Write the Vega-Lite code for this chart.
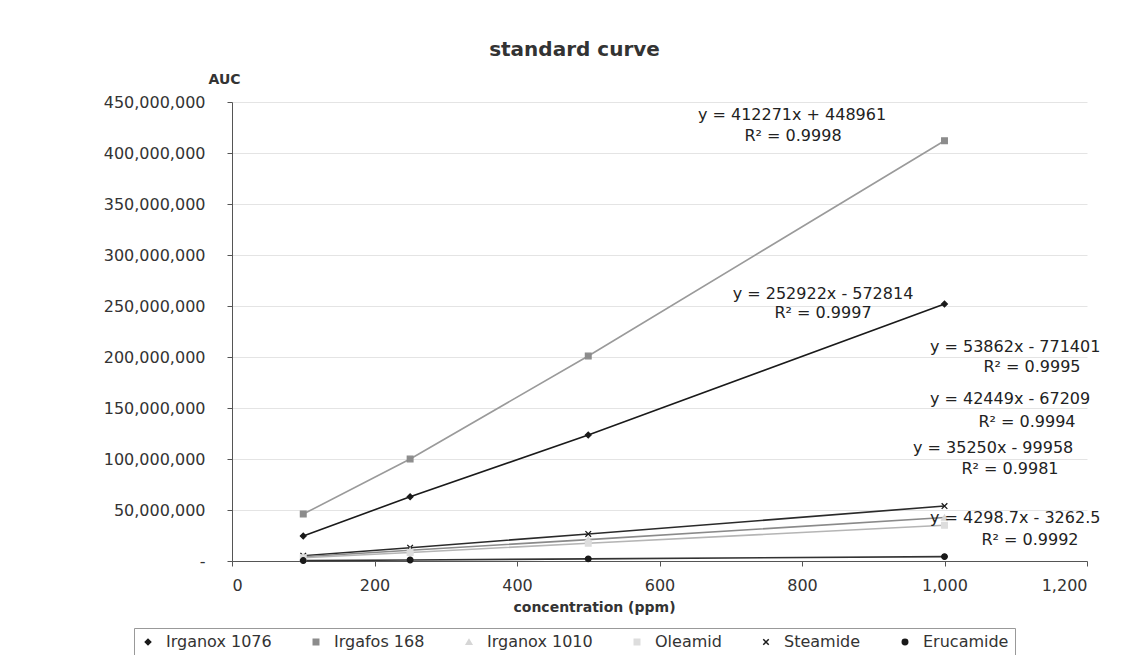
{
  "$schema": "https://vega.github.io/schema/vega-lite/v6.json",
  "autosize": {"type": "none"},
  "width": 855,
  "height": 459,
  "padding": {"left": 232, "top": 102, "right": 41, "bottom": 94},
  "background": "white",
  "title": {
    "text": "standard curve",
    "font": "DejaVu Sans",
    "fontSize": 20,
    "fontWeight": "bold",
    "color": "#333",
    "anchor": "middle",
    "dx": -85,
    "offset": 12
  },
  "config": {
    "view": {"stroke": null},
    "axis": {
      "labelFont": "DejaVu Sans",
      "labelFontSize": 16,
      "labelColor": "#333",
      "titleFont": "DejaVu Sans",
      "titleColor": "#333",
      "domainColor": "#555",
      "tickColor": "#555",
      "tickSize": 5
    },
    "legend": {
      "labelFont": "DejaVu Sans",
      "labelFontSize": 16,
      "labelColor": "#333"
    }
  },
  "datasets": {
    "points": [
      {"series": "Irgafos 168", "conc": 100, "auc": 46000000},
      {"series": "Irgafos 168", "conc": 250, "auc": 100000000},
      {"series": "Irgafos 168", "conc": 500, "auc": 201000000},
      {"series": "Irgafos 168", "conc": 1000, "auc": 412000000},
      {"series": "Irganox 1076", "conc": 100, "auc": 24500000},
      {"series": "Irganox 1076", "conc": 250, "auc": 63000000},
      {"series": "Irganox 1076", "conc": 500, "auc": 123500000},
      {"series": "Irganox 1076", "conc": 1000, "auc": 252000000},
      {"series": "Steamide", "conc": 100, "auc": 5200000},
      {"series": "Steamide", "conc": 250, "auc": 13000000},
      {"series": "Steamide", "conc": 500, "auc": 26500000},
      {"series": "Steamide", "conc": 1000, "auc": 53900000},
      {"series": "Irganox 1010", "conc": 100, "auc": 4100000},
      {"series": "Irganox 1010", "conc": 250, "auc": 10500000},
      {"series": "Irganox 1010", "conc": 500, "auc": 21000000},
      {"series": "Irganox 1010", "conc": 1000, "auc": 42600000},
      {"series": "Oleamid", "conc": 100, "auc": 3200000},
      {"series": "Oleamid", "conc": 250, "auc": 8400000},
      {"series": "Oleamid", "conc": 500, "auc": 17400000},
      {"series": "Oleamid", "conc": 1000, "auc": 35000000},
      {"series": "Erucamide", "conc": 100, "auc": 400000},
      {"series": "Erucamide", "conc": 250, "auc": 1050000},
      {"series": "Erucamide", "conc": 500, "auc": 2100000},
      {"series": "Erucamide", "conc": 1000, "auc": 4300000}
    ],
    "labelsCenter": [
      {"text": "y = 412271x + 448961", "x": 786, "y": 437300000},
      {"text": "R² = 0.9998", "x": 787.4, "y": 416700000},
      {"text": "y = 252922x - 572814", "x": 829.5, "y": 261800000},
      {"text": "R² = 0.9997", "x": 829.5, "y": 243100000},
      {"text": "R² = 0.9995", "x": 1122.8, "y": 190200000},
      {"text": "R² = 0.9994", "x": 1115.8, "y": 136300000},
      {"text": "R² = 0.9981", "x": 1091.9, "y": 90200000},
      {"text": "R² = 0.9992", "x": 1120, "y": 20600000}
    ],
    "labelsLeft": [
      {"text": "y = 53862x - 771401", "x": 979.6, "y": 209800000},
      {"text": "y = 42449x - 67209", "x": 979.6, "y": 158800000},
      {"text": "y = 35250x - 99958", "x": 955.8, "y": 110800000},
      {"text": "y = 4298.7x - 3262.5", "x": 979.6, "y": 42200000}
    ]
  },
  "layer": [
    {
      "data": {"name": "points"},
      "mark": {"type": "line", "strokeWidth": 1.6, "clip": false},
      "encoding": {
        "x": {
          "field": "conc", "type": "quantitative",
          "scale": {"domain": [0, 1200], "nice": false},
          "axis": {
            "values": [0, 200, 400, 600, 800, 1000, 1200],
            "grid": false,
            "labelExpr": "format(datum.value, ',d')",
            "labelPadding": 11,
            "title": "concentration (ppm)",
            "titleFontSize": 14,
            "titleFontWeight": "bold",
            "titleX": 362,
            "titleY": 46,
            "titleBaseline": "middle"
          }
        },
        "y": {
          "field": "auc", "type": "quantitative",
          "scale": {"domain": [0, 450000000], "nice": false},
          "axis": {
            "values": [0, 50000000, 100000000, 150000000, 200000000, 250000000, 300000000, 350000000, 400000000, 450000000],
            "labelExpr": "datum.value == 0 ? '-' : format(datum.value, ',')",
            "labelPadding": 22,
            "grid": true,
            "gridColor": "#e4e4e4",
            "title": "AUC",
            "titleFontSize": 14,
            "titleFontWeight": "bold",
            "titleAngle": 0,
            "titleX": -8,
            "titleY": -23,
            "titleAlign": "center",
            "titleBaseline": "middle"
          }
        },
        "detail": {"field": "series"},
        "color": {
          "field": "series", "type": "nominal",
          "scale": {
            "domain": ["Irgafos 168", "Irganox 1076", "Steamide", "Irganox 1010", "Oleamid", "Erucamide"],
            "range": ["#9a9a9a", "#1a1a1a", "#2a2a2a", "#8a8a8a", "#b5b5b5", "#333333"]
          },
          "legend": null
        }
      }
    },
    {
      "data": {"name": "points"},
      "mark": {"type": "point", "filled": true, "size": 32, "strokeWidth": 1.3, "opacity": 1},
      "encoding": {
        "x": {"field": "conc", "type": "quantitative"},
        "y": {"field": "auc", "type": "quantitative"},
        "fill": {
          "field": "series", "type": "nominal",
          "scale": {
            "domain": ["Irganox 1076", "Irgafos 168", "Irganox 1010", "Oleamid", "Steamide", "Erucamide"],
            "range": ["#1a1a1a", "#8c8c8c", "#d6d6d6", "#dddddd", "#1a1a1a", "#1a1a1a"]
          },
          "legend": {
            "title": null,
            "orient": "none",
            "legendX": -98,
            "legendY": 526,
            "direction": "horizontal",
            "strokeColor": "#999",
            "padding": 6,
            "columnPadding": 36,
            "labelOffset": 10,
            "symbolSize": 30
          }
        },
        "stroke": {
          "field": "series", "type": "nominal",
          "scale": {
            "domain": ["Irganox 1076", "Irgafos 168", "Irganox 1010", "Oleamid", "Steamide", "Erucamide"],
            "range": ["#1a1a1a", "#8c8c8c", "#d6d6d6", "#dddddd", "#1a1a1a", "#1a1a1a"]
          },
          "legend": {
            "title": null,
            "orient": "none",
            "legendX": -98,
            "legendY": 526,
            "direction": "horizontal",
            "strokeColor": "#999",
            "padding": 6,
            "columnPadding": 36,
            "labelOffset": 10,
            "symbolSize": 30
          }
        },
        "shape": {
          "field": "series", "type": "nominal",
          "scale": {
            "domain": ["Irganox 1076", "Irgafos 168", "Irganox 1010", "Oleamid", "Steamide", "Erucamide"],
            "range": ["diamond", "square", "triangle-up", "square", "M-1,-1L1,1M-1,1L1,-1", "circle"]
          },
          "legend": {
            "title": null,
            "orient": "none",
            "legendX": -98,
            "legendY": 526,
            "direction": "horizontal",
            "strokeColor": "#999",
            "padding": 6,
            "columnPadding": 36,
            "labelOffset": 10,
            "symbolSize": 30
          }
        }
      }
    },
    {
      "data": {"name": "labelsCenter"},
      "mark": {"type": "text", "font": "DejaVu Sans", "fontSize": 16, "color": "#222", "baseline": "middle", "align": "center", "clip": false},
      "encoding": {
        "x": {"field": "x", "type": "quantitative"},
        "y": {"field": "y", "type": "quantitative"},
        "text": {"field": "text"}
      }
    },
    {
      "data": {"name": "labelsLeft"},
      "mark": {"type": "text", "font": "DejaVu Sans", "fontSize": 16, "color": "#222", "baseline": "middle", "align": "left", "clip": false},
      "encoding": {
        "x": {"field": "x", "type": "quantitative"},
        "y": {"field": "y", "type": "quantitative"},
        "text": {"field": "text"}
      }
    }
  ]
}
